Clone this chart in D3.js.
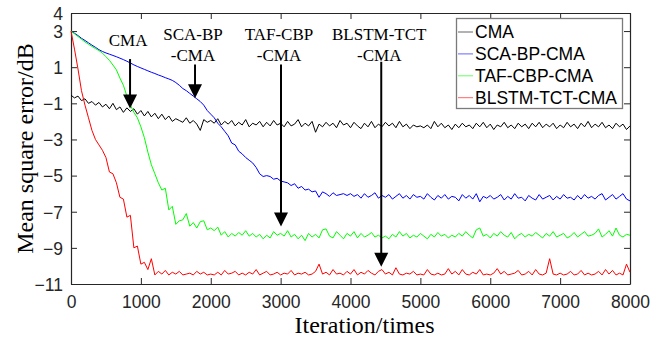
<!DOCTYPE html>
<html>
<head>
<meta charset="utf-8">
<script src="https://cdn.jsdelivr.net/npm/d3@7"></script>
<style>
  body { margin: 0; background: #fff; }
  svg { display: block; }
</style>
</head>
<body>
<script>
// iterations sampled every 50, 0..8000
var step = 50;

var cma = [
  -0.55,-0.7,-0.6,-0.85,-0.75,-1.0,-0.9,-1.1,-0.95,-1.2,
  -1.05,-1.3,-1.0,-1.35,-1.2,-1.5,-1.25,-1.45,-1.3,-1.6,
  -1.4,-1.7,-1.45,-1.75,-1.55,-1.85,-1.6,-1.9,-1.7,-2.0,
  -1.85,-1.95,-2.05,-1.8,-2.1,-1.95,-2.15,-2.5,-1.9,-2.05,
  -1.95,-2.1,-1.85,-2.2,-2.0,-2.15,-1.95,-2.25,-2.05,-2.2,
  -1.9,-2.3,-2.1,-2.2,-2.0,-2.3,-2.05,-2.25,-1.95,-2.2,
  -2.1,-2.3,-2.0,-2.25,-2.15,-1.9,-2.3,-2.1,-2.25,-2.0,
  -2.6,-2.15,-2.3,-2.05,-2.25,-2.1,-2.35,-1.95,-2.2,-2.1,
  -2.35,-2.05,-2.25,-2.4,-2.1,-2.3,-2.0,-2.35,-2.15,-2.3,
  -2.05,-2.25,-2.1,-2.35,-2.0,-2.3,-2.15,-2.4,-2.2,-2.3,
  -2.25,-2.35,-2.2,-2.4,-2.0,-2.3,-2.1,-2.35,-2.2,-2.45,
  -2.15,-2.35,-2.1,-2.3,-2.2,-2.4,-2.1,-2.3,-2.05,-2.35,
  -2.15,-2.45,-2.2,-2.3,-2.05,-2.35,-2.2,-2.4,-2.1,-2.3,
  -2.15,-2.4,-2.1,-2.3,-2.05,-2.35,-2.15,-2.3,-2.1,-2.4,
  -2.2,-2.35,-2.05,-2.3,-2.15,-2.4,-2.1,-2.3,-2.0,-2.35,
  -2.15,-2.3,-2.05,-2.35,-2.2,-2.4,-2.1,-2.3,-2.15,-2.45,
  -2.25
];

var scaBp = [
  3.0,2.88,2.75,2.6,2.48,2.35,2.22,2.1,1.97,1.87,
  1.79,1.72,1.65,1.58,1.5,1.42,1.33,1.23,1.13,1.04,
  0.96,0.88,0.8,0.72,0.65,0.57,0.5,0.42,0.35,0.27,
  0.15,0.0,-0.18,-0.3,-0.45,-0.6,-0.75,-0.9,-1.1,-1.4,
  -1.6,-1.8,-2.1,-2.3,-2.55,-2.8,-3.2,-3.3,-3.65,-3.8,
  -4.0,-4.15,-4.3,-4.55,-4.9,-5.05,-5.0,-5.05,-5.2,-5.15,
  -5.3,-5.35,-5.4,-5.55,-5.45,-5.7,-5.6,-5.8,-5.75,-5.9,
  -5.85,-6.2,-5.9,-6.0,-6.15,-5.95,-6.1,-6.05,-6.0,-6.1,
  -6.0,-6.15,-6.05,-6.25,-6.0,-6.2,-6.1,-5.95,-6.25,-6.1,
  -6.2,-6.05,-6.3,-6.15,-6.0,-6.25,-6.1,-6.3,-6.05,-6.2,
  -6.15,-6.3,-6.0,-6.2,-6.35,-6.1,-6.25,-6.05,-6.3,-6.15,
  -6.2,-6.4,-6.05,-6.25,-6.1,-6.3,-6.0,-6.45,-6.15,-6.25,
  -6.1,-6.3,-6.2,-6.05,-6.35,-6.15,-6.3,-6.0,-6.25,-6.2,
  -6.4,-6.1,-6.25,-6.35,-6.05,-6.3,-6.2,-6.1,-6.35,-6.15,
  -6.3,-6.05,-6.25,-6.2,-6.35,-6.1,-6.3,-6.05,-6.25,-6.15,
  -6.3,-6.1,-6.0,-6.35,-6.2,-6.05,-6.3,-6.15,-6.0,-6.3,
  -6.4
];

var tafCbp = [
  3.0,2.85,2.7,2.55,2.4,2.27,2.15,2.03,1.92,1.78,
  1.58,1.38,1.12,0.85,0.4,0.0,-0.6,-1.1,-1.5,-1.8,
  -2.3,-2.9,-3.7,-4.4,-4.9,-5.4,-5.8,-5.7,-6.9,-6.7,
  -7.7,-7.5,-7.45,-7.1,-7.8,-7.6,-7.9,-7.55,-7.5,-8.0,
  -7.9,-8.05,-7.85,-8.3,-8.1,-8.4,-8.2,-8.35,-8.15,-8.3,
  -8.05,-8.35,-8.2,-8.4,-8.25,-8.5,-8.3,-8.45,-8.1,-8.3,
  -8.2,-8.35,-8.05,-8.4,-8.25,-8.5,-8.3,-8.6,-8.2,-8.4,
  -8.25,-8.45,-8.0,-7.95,-8.35,-8.45,-8.1,-8.3,-8.5,-8.2,
  -8.35,-8.1,-8.45,-8.2,-8.4,-8.3,-8.15,-8.4,-8.3,-8.45,
  -8.35,-8.5,-8.25,-8.4,-8.1,-8.35,-8.2,-8.45,-8.3,-8.4,
  -8.2,-8.35,-8.5,-8.25,-8.4,-8.15,-8.35,-8.25,-8.45,-8.3,
  -8.4,-8.2,-8.35,-8.1,-8.3,-8.45,-8.0,-7.9,-8.35,-8.25,
  -8.45,-8.2,-8.35,-8.1,-8.3,-8.4,-8.15,-8.5,-8.3,-8.2,
  -8.4,-8.25,-8.35,-8.15,-8.3,-8.45,-8.2,-8.35,-8.1,-8.4,
  -8.3,-8.2,-8.45,-8.35,-8.15,-8.4,-8.25,-8.1,-8.35,-8.3,
  -8.2,-7.95,-8.4,-8.25,-8.05,-8.35,-7.9,-8.3,-8.4,-8.25,
  -8.3
];

var blstm = [
  3.0,2.0,0.9,-0.3,-1.1,-1.8,-2.5,-3.0,-3.3,-3.6,
  -4.0,-4.8,-4.9,-5.4,-6.2,-6.3,-7.3,-7.2,-9.0,-8.9,
  -9.9,-9.8,-10.2,-9.6,-10.5,-10.3,-10.45,-10.25,-10.5,-10.35,
  -10.45,-10.3,-10.5,-10.45,-10.4,-10.5,-10.3,-10.45,-10.35,-10.5,
  -10.45,-10.5,-10.35,-10.5,-10.25,-10.45,-10.4,-10.3,-10.5,-10.4,
  -10.5,-10.35,-10.45,-10.2,-10.5,-10.4,-10.3,-10.5,-10.45,-10.35,
  -10.5,-10.4,-10.45,-10.25,-10.5,-10.4,-10.45,-10.35,-10.5,-10.45,
  -10.3,-9.9,-10.45,-10.35,-10.5,-10.2,-10.45,-10.4,-10.5,-10.3,
  -10.45,-10.2,-10.5,-10.35,-10.45,-10.25,-10.4,-10.5,-10.3,-10.2,
  -10.45,-10.35,-10.5,-10.1,-10.45,-10.5,-10.4,-10.45,-10.3,-10.5,
  -10.45,-10.5,-10.2,-10.45,-10.5,-10.4,-10.5,-10.45,-10.15,-10.45,
  -10.3,-10.5,-10.2,-10.45,-10.5,-10.35,-10.45,-10.2,-10.5,-10.45,
  -10.5,-10.4,-10.15,-10.45,-10.3,-10.5,-10.45,-10.4,-10.25,-10.5,
  -10.45,-10.3,-10.5,-10.2,-10.45,-10.5,-10.4,-9.6,-10.45,-10.5,
  -10.4,-10.5,-10.45,-10.3,-10.5,-10.45,-10.25,-10.5,-10.4,-10.5,
  -10.45,-10.3,-10.5,-10.2,-10.45,-10.25,-10.5,-10.4,-10.5,-9.9,
  -10.35
];

var seriesNames = ["CMA", "SCA-BP-CMA", "TAF-CBP-CMA", "BLSTM-TCT-CMA"];
var seriesColors = ["#000000", "#0000ff", "#00ff00", "#ff0000"];
var seriesValues = [cma, scaBp, tafCbp, blstm];

var xTicks = [0, 1000, 2000, 3000, 4000, 5000, 6000, 7000, 8000];
var yTicks = [4, 3, 1, -1, -3, -5, -7, -9, -11];

// arrows: label lines, iteration, value at tip, value at tail
var notes = [
  {lines: ["CMA"], it: 845, tip: -1.28, tail: 1.45},
  {lines: ["SCA-BP", "-CMA"], it: 1775, tip: -0.72, tail: 1.15},
  {lines: ["TAF-CBP", "-CMA"], it: 3005, tip: -7.82, tail: 1.15},
  {lines: ["BLSTM-TCT", "-CMA"], it: 4440, tip: -10.05, tail: 1.3}
];

var width = 669, height = 339;
var margin = {top: 13, right: 39, bottom: 55, left: 71};

var svg = d3.select("body").append("svg")
    .attr("width", width).attr("height", height);

var x = d3.scaleLinear().domain([0, 8000]).range([margin.left, width - margin.right]);
var y = d3.scaleLinear().domain([-11, 4]).range([height - margin.bottom, margin.top]);

var tickFont = "'Liberation Sans', Arial, sans-serif";
var serif = "'Liberation Serif', 'Times New Roman', serif";

// axes with inward ticks, box all around
var gx = svg.append("g").attr("transform", "translate(0," + y(-11) + ")")
  .call(d3.axisBottom(x).tickValues(xTicks).tickSizeInner(-6).tickSizeOuter(0).tickPadding(12).tickFormat(d3.format("d")));
var gxt = svg.append("g").attr("transform", "translate(0," + y(4) + ")")
  .call(d3.axisTop(x).tickValues(xTicks).tickSizeInner(-6).tickSizeOuter(0).tickFormat(""));
var gy = svg.append("g").attr("transform", "translate(" + x(0) + ",0)")
  .call(d3.axisLeft(y).tickValues(yTicks).tickSizeInner(-6).tickSizeOuter(0).tickPadding(8));
var gyr = svg.append("g").attr("transform", "translate(" + x(8000) + ",0)")
  .call(d3.axisRight(y).tickValues(yTicks).tickSizeInner(-6).tickSizeOuter(0).tickFormat(""));

[gx, gxt, gy, gyr].forEach(function(g) {
  g.selectAll("path").attr("stroke", "#262626").attr("stroke-width", 1.2);
  g.selectAll("line").attr("stroke", "#262626").attr("stroke-width", 1);
  g.selectAll("text").attr("font-family", tickFont).attr("font-size", 17.5).attr("fill", "#262626");
});
gy.selectAll("text").attr("dy", "0.36em");

// lines
var line = d3.line()
  .x(function(d, i) { return x(i * step); })
  .y(function(d) { return y(d); });

svg.append("g").selectAll("path")
  .data(seriesValues)
  .enter().append("path")
  .attr("d", line)
  .attr("fill", "none")
  .attr("stroke", function(d, i) { return seriesColors[i]; })
  .attr("stroke-width", 1);

// annotations
var ann = svg.append("g");
notes.forEach(function(n) {
  var cx = x(n.it);
  var t = ann.append("text")
    .attr("font-family", serif).attr("font-size", 17)
    .attr("text-anchor", "middle").attr("fill", "#000");
  n.lines.forEach(function(s, i) {
    t.append("tspan").attr("x", cx - 2).attr("y", n.lines.length == 1 ? 46 : 40 + i * 21).text(s);
  });
  var tipY = y(n.tip);
  ann.append("line")
    .attr("x1", cx).attr("x2", cx)
    .attr("y1", y(n.tail)).attr("y2", tipY - 10)
    .attr("stroke", "#000").attr("stroke-width", 2);
  ann.append("path")
    .attr("d", "M" + (cx - 7) + "," + (tipY - 14) + "L" + (cx + 7) + "," + (tipY - 14) + "L" + cx + "," + tipY + "Z")
    .attr("fill", "#000");
});

// axis titles
svg.append("text")
  .attr("x", (x(0) + x(8000)) / 2 + 14).attr("y", 333)
  .attr("text-anchor", "middle")
  .attr("font-family", serif).attr("font-size", 24)
  .text("Iteration/times");

svg.append("text")
  .attr("transform", "translate(33," + (y(-3.5)) + ") rotate(-90)")
  .attr("text-anchor", "middle")
  .attr("font-family", serif).attr("font-size", 24)
  .text("Mean square error/dB");

// legend
var lg = svg.append("g");
lg.append("rect")
  .attr("x", 456.5).attr("y", 18.5).attr("width", 166).attr("height", 90)
  .attr("fill", "#fff").attr("stroke", "#7a7a7a").attr("stroke-width", 1.3);
seriesNames.forEach(function(name, i) {
  var by = 38 + i * 21.9;
  lg.append("line")
    .attr("x1", 458).attr("x2", 473)
    .attr("y1", by - 6).attr("y2", by - 6)
    .attr("stroke", seriesColors[i]).attr("stroke-width", 1).attr("opacity", 0.6);
  lg.append("text")
    .attr("x", 475).attr("y", by)
    .attr("font-family", tickFont).attr("font-size", 17.5).attr("fill", "#000")
    .text(name);
});
</script>
</body>
</html>
